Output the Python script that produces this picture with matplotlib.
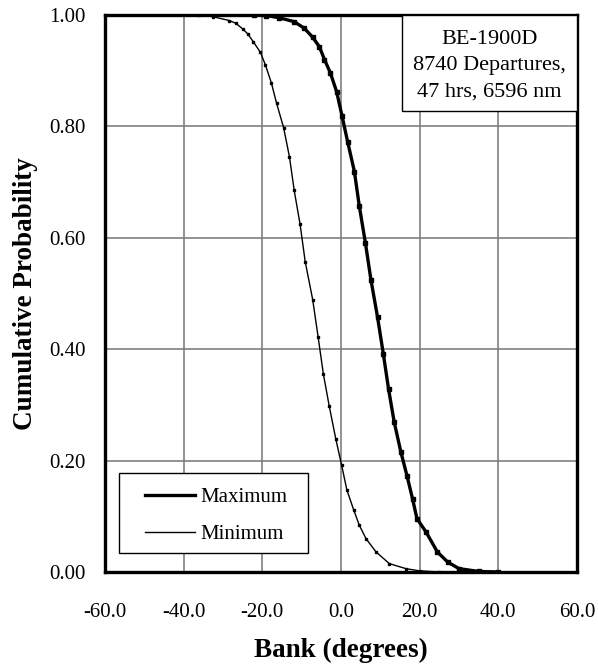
import matplotlib
matplotlib.use("Agg")
import matplotlib.pyplot as plt
from matplotlib.patches import Rectangle

plt.rcParams["font.family"] = ["Liberation Serif", "DejaVu Serif"]

# Cumulative probability of bank angle, per departure
bank_max = [-22, -19, -15.7, -11.9, -9.3, -7.2, -5.5, -4.2, -2.7, -1.1, 0.25,
            1.7, 3.4, 4.65, 6.2, 7.6, 9.3, 10.75, 12.1, 13.5, 15.2, 16.8,
            18.2, 19.3, 21.6, 24.5, 27.1, 30.0, 35.0, 40.0]
prob_max = [1.0, 0.999, 0.995, 0.988, 0.976, 0.96, 0.943, 0.92, 0.896, 0.862,
            0.819, 0.772, 0.719, 0.657, 0.591, 0.525, 0.457, 0.392, 0.328,
            0.27, 0.216, 0.172, 0.131, 0.096, 0.072, 0.036, 0.018, 0.006,
            0.001, 0.0]

bank_min = [-36, -32.6, -28.4, -26.7, -25, -23.7, -22.3, -20.5, -19.2, -17.7,
            -16.4, -14.6, -13.1, -11.9, -10.4, -9.1, -7.2, -5.8, -4.5, -3.0,
            -1.3, 0.15, 1.5, 3.2, 4.65, 6.35, 8.9, 12.3, 16.5, 20, 25]
prob_min = [1.0, 0.997, 0.99, 0.985, 0.975, 0.966, 0.952, 0.933, 0.91, 0.878,
            0.842, 0.798, 0.745, 0.685, 0.624, 0.557, 0.489, 0.421, 0.356,
            0.298, 0.238, 0.192, 0.147, 0.112, 0.084, 0.06, 0.036, 0.015,
            0.006, 0.002, 0.0]

x_ticks = [-60, -40, -20, 0, 20, 40, 60]
y_ticks = [0.0, 0.2, 0.4, 0.6, 0.8, 1.0]
info_lines = ["BE-1900D", "8740 Departures,", "47 hrs, 6596 nm"]

fig = plt.figure(figsize=(5.98, 6.69), dpi=100)
ax = fig.add_axes([0.1756, 0.145, 0.7893, 0.8326])

ax.plot(bank_max, prob_max, color="black", lw=2.4, marker="s", ms=2.6,
        label="Maximum", zorder=3)
ax.plot(bank_min, prob_min, color="black", lw=1.0, marker="s", ms=1.8,
        label="Minimum", zorder=3)

ax.set_xlim(-60, 60)
ax.set_ylim(0, 1)
ax.set_xticks(x_ticks)
ax.set_yticks(y_ticks)
ax.set_xticklabels([f"{v:.1f}" for v in x_ticks])
ax.set_yticklabels([f"{v:.2f}" for v in y_ticks])
ax.tick_params(length=0, labelsize=15)
ax.tick_params(axis="x", pad=22)
ax.tick_params(axis="y", pad=14)
ax.grid(True, color="#808080", lw=1.2)
ax.set_axisbelow(True)
for s in ax.spines.values():
    s.set_linewidth(2.4)
    s.set_zorder(4)

ax.set_xlabel("Bank (degrees)", fontsize=19.5, fontweight="bold", labelpad=12)
ax.set_ylabel("Cumulative Probability", fontsize=19.5, fontweight="bold",
              labelpad=8)

# legend box drawn separately so its size is independent of the padding
ax.add_patch(Rectangle((0.03, 0.034), 0.40, 0.144, transform=ax.transAxes,
                       facecolor="white", edgecolor="black", lw=1.0,
                       zorder=5))
leg = ax.legend(loc="center left", bbox_to_anchor=(0.085, 0.101),
                borderaxespad=0, borderpad=0, frameon=False, fontsize=15,
                handlelength=2.4, handletextpad=0.25, labelspacing=0.84)
leg.set_zorder(6)
for h in leg.get_lines():
    h.set_marker("")

# info box in the upper right corner
ax.add_patch(Rectangle((0.629, 0.828), 0.371, 0.172, transform=ax.transAxes,
                       facecolor="white", edgecolor="black", lw=1.0,
                       zorder=5))
ax.text(0.815, 0.909, "\n".join(info_lines), transform=ax.transAxes,
        ha="center", va="center", fontsize=16, linespacing=1.5, zorder=6)

fig.savefig("out.png", dpi=100)
